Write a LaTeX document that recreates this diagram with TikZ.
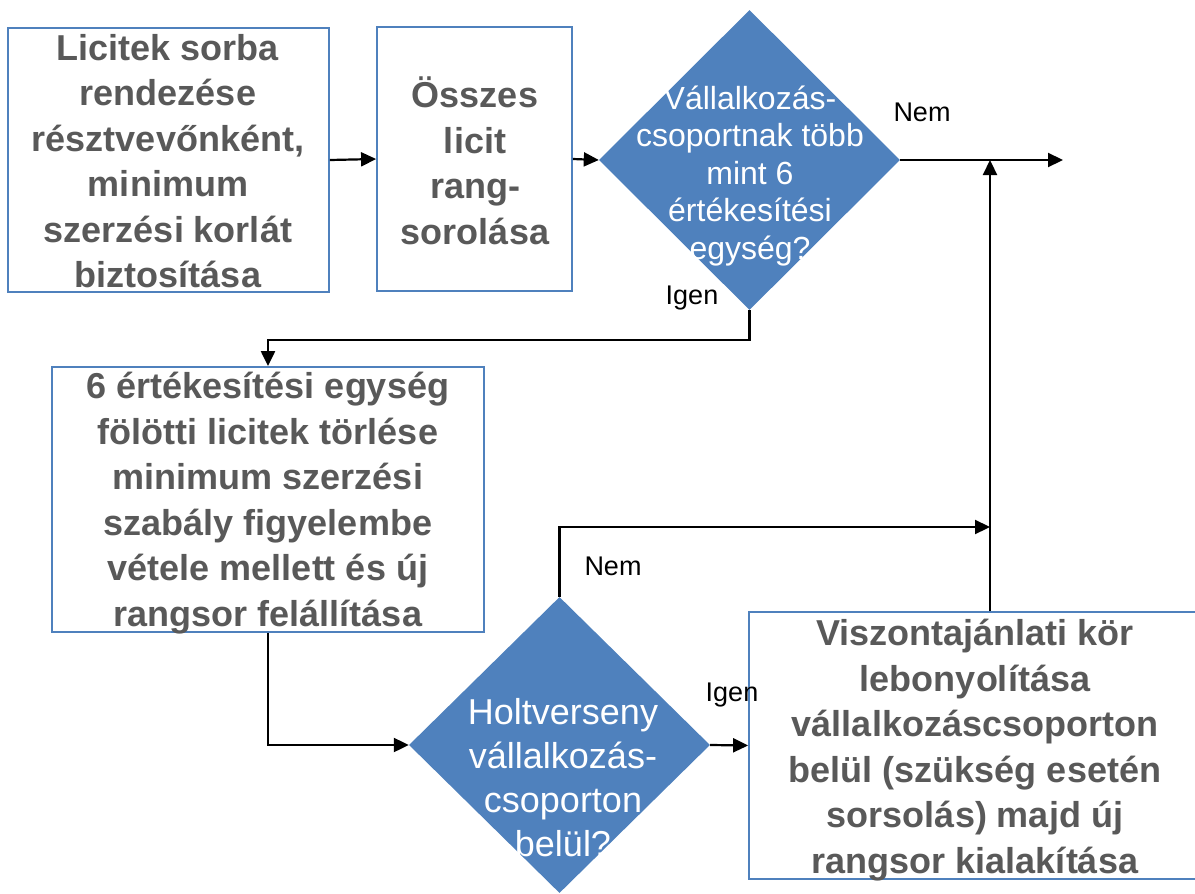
\documentclass[tikz,border=0pt]{standalone}
\usepackage{fontspec}
\setmainfont{Liberation Sans}
\usetikzlibrary{shapes.geometric,arrows.meta}
\definecolor{obl}{HTML}{4F81BD}
\definecolor{otx}{HTML}{595959}
\begin{document}
\begin{tikzpicture}[x=1pt,y=-1pt,
  box/.style={draw=obl,line width=1.8pt,inner sep=0pt,fill=white},
  dec/.style={diamond,fill=obl,inner sep=0pt,aspect=1},
  btext/.style={font=\fontsize{36}{45.5}\selectfont\bfseries,text=otx,align=center,inner sep=0pt},
  dtext/.style={font=\fontsize{32}{37.5}\selectfont,text=white,align=center,inner sep=0pt},
  dtextb/.style={font=\fontsize{36}{44}\selectfont,text=white,align=center,inner sep=0pt},
  lbl/.style={font=\fontsize{27}{30}\selectfont,text=black,inner sep=0pt},
  conn/.style={line width=2.2pt,-{Triangle[length=15pt,width=14pt]}}]
\useasboundingbox (0,0) rectangle (1195,894);
% shapes
\node[box,minimum width=321pt,minimum height=264pt] (b1) at (168.5,160) {};
\node[box,minimum width=195pt,minimum height=264pt] (b2) at (474.5,159) {};
\node[dec,minimum width=301pt,minimum height=300pt] (d1) at (749.5,160) {};
\node[box,minimum width=432pt,minimum height=265pt] (b3) at (268,499.5) {};
\node[dec,minimum width=301pt,minimum height=296pt] (d2) at (559.5,745) {};
\node[box,minimum width=451pt,minimum height=267pt] (b4) at (974.5,745.5) {};
% texts
\node[btext] (t1) at (168,161) {Licitek sorba\\rendezése\\résztvevőnként,\\minimum\\szerzési korlát\\biztosítása};
\node[btext] (t2) at (475,161) {Összes\\licit\\rang-\\sorolása};
\node[dtext] (t3) at (750,176) {Vállalkozás-\\csoportnak több\\mint 6\\értékesítési\\egység?};
\node[btext] (t4) at (268,503) {6 értékesítési egység\\fölötti licitek törlése\\minimum szerzési\\szabály figyelembe\\vétele mellett és új\\rangsor felállítása};
\node[dtextb] (t5) at (563,778) {Holtverseny\\vállalkozás-\\csoporton\\belül?};
\node[btext] (t6) at (975,750) {Viszontajánlati kör\\lebonyolítása\\vállalkozáscsoporton\\belül (szükség esetén\\sorsolás) majd új\\rangsor kialakítása};
% connectors
\coordinate (out) at (1063,160);
\coordinate (j1) at (990,160);
\coordinate (j2) at (990,527);
\draw[conn] (b1.east) -- (b2.west);
\draw[conn] (b2.east) -- (d1.west);
\draw[conn] (d1.east) -- (out);
\draw[conn] (d1.south) -- ++(0,30) -| (b3.north);
\draw[conn] (b3.south) |- (d2.west);
\draw[conn] (d2.east) -- (b4.west);
\draw[conn] (d2.north) |- (j2);
\draw[conn] (j1 |- b4.north) -- (j1);
% labels
\node[lbl] (l1) at (922,112) {Nem};
\node[lbl] (l2) at (692,298) {Igen};
\node[lbl] (l3) at (613,566) {Nem};
\node[lbl] (l4) at (732,695) {Igen};
\end{tikzpicture}
\end{document}
